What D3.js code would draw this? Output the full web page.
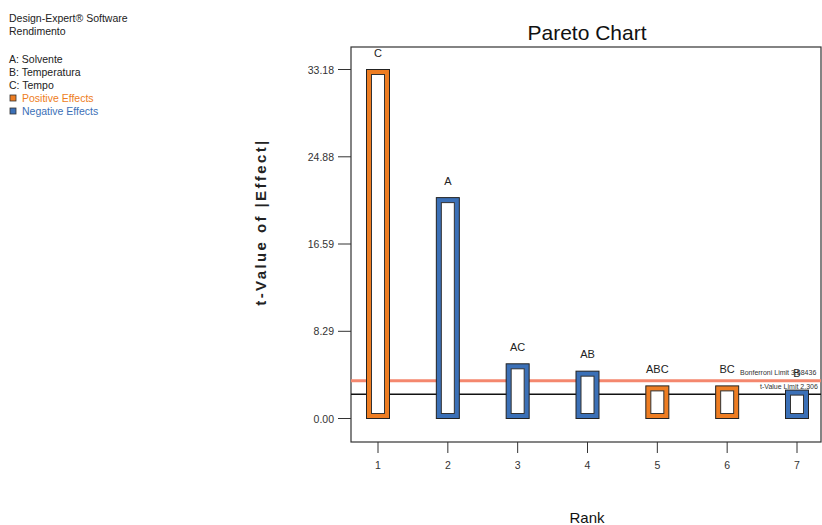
<!DOCTYPE html>
<html>
<head>
<meta charset="utf-8">
<script src="https://cdn.jsdelivr.net/npm/d3@7"></script>
<style>
  body { margin: 0; background: #fff; }
  svg { font-family: "Liberation Sans", Arial, sans-serif; }
</style>
</head>
<body>
<div id="chart"></div>
<script>
// Effects ranked by |t-value|
const ranks = [1, 2, 3, 4, 5, 6, 7];
const terms = ["C", "A", "AC", "AB", "ABC", "BC", "B"];
const tValues = [33.18, 21.0, 5.2, 4.5, 3.1, 3.1, 2.7];
const signs = ["+", "-", "-", "-", "+", "+", "-"];
const yTicks = [0.00, 8.29, 16.59, 24.88, 33.18];
const bonferroni = 3.58436;
const tLimit = 2.306;
const legendLines = ["A: Solvente", "B: Temperatura", "C: Tempo"];

const W = 822, H = 525;
const orange = "#ee7d22", blue = "#3b70b7";

const svg = d3.select("#chart").append("svg")
    .attr("width", W).attr("height", H);

// plot frame
const frame = {left: 351, top: 47, right: 821, bottom: 442};

const x = d3.scaleLinear().domain([1, 7]).range([378, 797]);
const y = d3.scaleLinear().domain([0, 33.18]).range([418.5, 69.5]);

// header / legend text on the left
const info = svg.append("g").style("font-size", "10.5px").attr("fill", "#222");
info.append("text").attr("x", 9).attr("y", 22).text("Design-Expert\u00AE Software");
info.append("text").attr("x", 9).attr("y", 35).text("Rendimento");
legendLines.forEach((t, i) => {
    info.append("text").attr("x", 9).attr("y", 63 + i * 13).text(t);
});
[["Positive Effects", orange], ["Negative Effects", blue]].forEach((d, i) => {
    const yy = 102 + i * 13;
    info.append("rect").attr("x", 10).attr("y", yy - 7).attr("width", 6).attr("height", 6)
        .attr("fill", d[1]).attr("stroke", "#333").attr("stroke-width", 0.8);
    info.append("text").attr("x", 22).attr("y", yy).attr("fill", d[1]).text(d[0]);
});

// title
svg.append("text").attr("x", 587).attr("y", 40).attr("text-anchor", "middle")
    .style("font-size", "21px").attr("fill", "#111").text("Pareto Chart");

// frame
svg.append("rect")
    .attr("x", frame.left).attr("y", frame.top)
    .attr("width", frame.right - frame.left).attr("height", frame.bottom - frame.top)
    .attr("fill", "none").attr("stroke", "#333").attr("stroke-width", 1.2);

// y axis ticks
const yAxis = svg.append("g");
yTicks.forEach(v => {
    yAxis.append("line").attr("x1", 338).attr("x2", frame.left)
        .attr("y1", y(v)).attr("y2", y(v)).attr("stroke", "#333");
    yAxis.append("text").attr("x", 334).attr("y", y(v) + 4).attr("text-anchor", "end")
        .style("font-size", "10.5px").attr("fill", "#333").text(v.toFixed(2));
});

// x axis ticks
const xAxis = svg.append("g");
ranks.forEach(r => {
    xAxis.append("line").attr("x1", x(r)).attr("x2", x(r))
        .attr("y1", frame.bottom).attr("y2", frame.bottom + 11).attr("stroke", "#333");
    xAxis.append("text").attr("x", x(r)).attr("y", frame.bottom + 27).attr("text-anchor", "middle")
        .style("font-size", "10.5px").attr("fill", "#333").text(r);
});

// axis titles
svg.append("text").attr("x", 587).attr("y", 523).attr("text-anchor", "middle")
    .style("font-size", "15px").attr("fill", "#111").text("Rank");
svg.append("text")
    .attr("transform", "translate(266,222) rotate(-90)")
    .attr("text-anchor", "middle")
    .style("font-size", "15px").style("font-weight", "bold").style("letter-spacing", "2.4px")
    .attr("fill", "#222").text("t-Value of |Effect|");

// limit lines
svg.append("line").attr("x1", frame.left).attr("x2", frame.right)
    .attr("y1", y(bonferroni)).attr("y2", y(bonferroni))
    .attr("stroke", "#f4876e").attr("stroke-width", 3);
svg.append("line").attr("x1", frame.left).attr("x2", frame.right)
    .attr("y1", y(tLimit)).attr("y2", y(tLimit))
    .attr("stroke", "#111").attr("stroke-width", 1.5);

// bars
const bw = 23, inset = 5;
const bars = svg.selectAll("g.bar")
    .data(ranks.map((r, i) => ({rank: r, term: terms[i], t: tValues[i], sign: signs[i]})))
    .join("g").attr("class", "bar");

bars.append("rect")
    .attr("x", d => x(d.rank) - bw / 2)
    .attr("y", d => y(d.t))
    .attr("width", bw)
    .attr("height", d => y(0) - y(d.t))
    .attr("fill", d => d.sign === "+" ? orange : blue)
    .attr("stroke", "#222").attr("stroke-width", 1);

bars.append("rect")
    .attr("x", d => x(d.rank) - bw / 2 + inset)
    .attr("y", d => y(d.t) + inset)
    .attr("width", bw - 2 * inset)
    .attr("height", d => Math.max(0, y(0) - y(d.t) - 2 * inset))
    .attr("fill", "#fff")
    .attr("stroke", "#333").attr("stroke-width", 1);

bars.append("text")
    .attr("x", d => x(d.rank))
    .attr("y", d => y(d.t) - 13)
    .attr("text-anchor", "middle")
    .style("font-size", "11px").attr("fill", "#222")
    .text(d => d.term);

// limit labels (run off the right edge like the original)
svg.append("text").attr("x", 740).attr("y", y(bonferroni) - 6)
    .style("font-size", "7px").attr("fill", "#333")
    .text("Bonferroni Limit 3.58436");
svg.append("text").attr("x", 760).attr("y", y(tLimit) - 5)
    .style("font-size", "7px").attr("fill", "#333")
    .text("t-Value Limit 2.306");
</script>
</body>
</html>
